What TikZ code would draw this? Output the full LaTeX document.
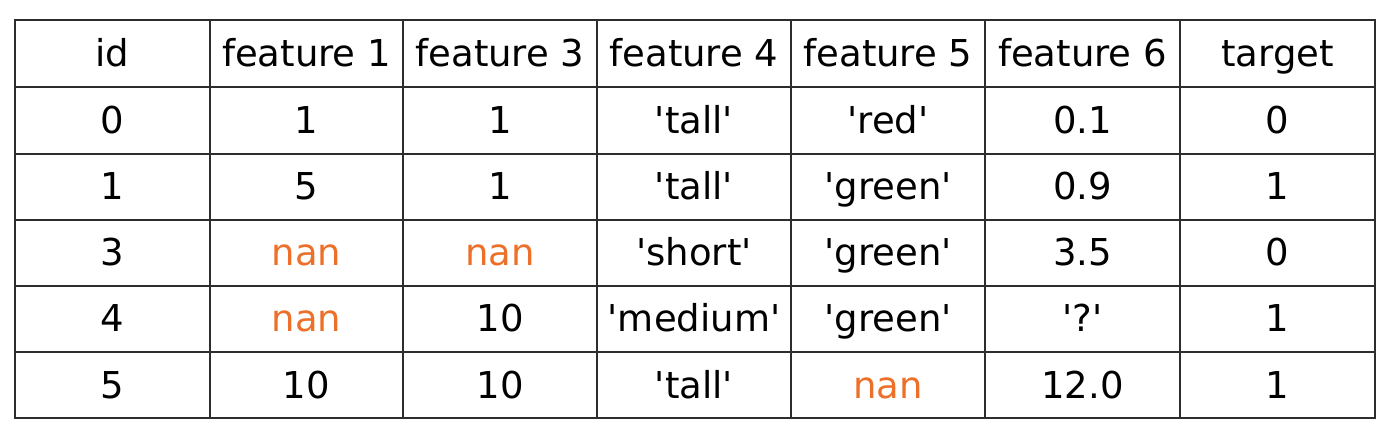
\documentclass[tikz,border=0pt]{standalone}
\usepackage{fontspec}
\newfontfamily\cellfont{DejaVu Sans}
\definecolor{nan-orange}{RGB}{236,112,42}
\definecolor{rule-gray}{RGB}{45,45,45}
\newcommand{\nanval}{\textcolor{nan-orange}{nan}}

\begin{document}
\begin{tikzpicture}[
        x=0.5pt, y=-0.5pt,
        every node/.style={anchor=base, inner sep=0pt, font=\cellfont\fontsize{18.5}{22}\selectfont},
        rule/.style={draw=rule-gray, line width=1pt},
    ]
    \useasboundingbox (0,0) rectangle (1400,434);
    % grid
    \draw[rule] (15,20) rectangle (1375,418);
    \foreach \x in {210,403,597,791,985,1180}
        \draw[rule] (\x,20) -- (\x,418);
    \foreach \y in {87,154,220,286,352}
        \draw[rule] (15,\y) -- (1375,\y);
    % column centres and row baselines
    \foreach \x [count=\c] in {112.5,306.5,500,694,888,1082.5,1277.5}
        \coordinate (col\c) at (\x,0);
    \foreach \y [count=\r from 0] in {66,133,199,265,331,398}
        \coordinate (row\r) at (0,\y);
    % cells
    \foreach \vals [count=\r from 0] in {
            {id,feature 1,feature 3,feature 4,feature 5,feature 6,target},
            {0,1,1,'tall','red',0.1,0},
            {1,5,1,'tall','green',0.9,1},
            {3,\nanval,\nanval,'short','green',3.5,0},
            {4,\nanval,10,'medium','green','?',1},
            {5,10,10,'tall',\nanval,12.0,1}}
        \foreach \txt [count=\c] in \vals
            \node (cell-\r-\c) at (col\c |- row\r) {\txt};
\end{tikzpicture}
\end{document}
